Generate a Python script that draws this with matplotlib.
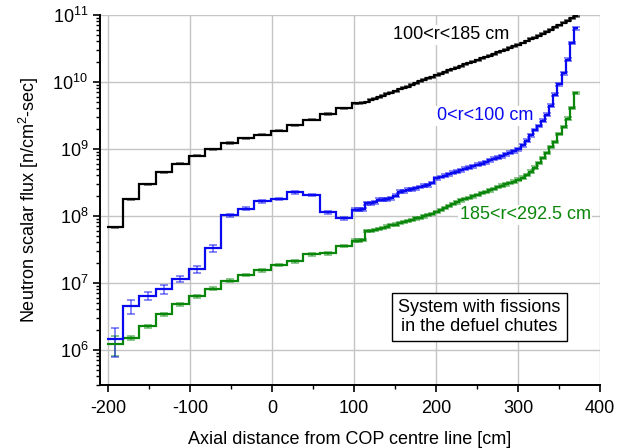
"""
    Neutron scalar flux along the axial direction, three radial zones.
"""
# Modules:
import numpy as np
import matplotlib
matplotlib.use("Agg")
import matplotlib.pyplot as plt
from matplotlib.ticker import MultipleLocator, LogLocator

# Data: bin edges [cm] (20 cm bins in the lower part, 5 cm bins above 98 cm)
coarse_edges = list(range(-202, 98, 20))
fine_edges = list(range(98, 374, 5))

# 100<r<185 cm
black_flux = [6.7e7, 1.77e8, 2.97e8, 4.49e8, 6.0e8, 7.9e8, 9.9e8, 1.22e9, 1.43e9, 1.62e9,
              1.86e9, 2.23e9, 2.7e9, 3.3e9, 4.0e9,
              4.8e9, 4.8e9, 4.9e9, 5.0e9, 5.4e9, 5.6e9, 5.9e9, 6.2e9, 6.6e9, 6.9e9,
              7.2e9, 7.8e9, 8.1e9, 8.5e9, 9.1e9, 9.5e9, 1.02e10, 1.07e10, 1.12e10, 1.17e10,
              1.26e10, 1.32e10, 1.38e10, 1.48e10, 1.55e10, 1.62e10, 1.70e10, 1.82e10, 1.91e10, 2.00e10,
              2.09e10, 2.24e10, 2.34e10, 2.45e10, 2.57e10, 2.75e10, 2.88e10, 3.02e10, 3.24e10, 3.39e10,
              3.55e10, 3.80e10, 4.07e10, 4.37e10, 4.57e10, 4.90e10, 5.25e10, 5.62e10, 6.03e10, 6.46e10,
              6.92e10, 7.59e10, 8.13e10, 8.91e10, 9.55e10]
black_err_coarse = [0.03, 0.02, 0.02, 0.02, 0.02, 0.02, 0.02, 0.02, 0.02, 0.02,
                    0.02, 0.02, 0.02, 0.02, 0.02]
black_err_fine = 0.015

# 0<r<100 cm
blue_flux = [1.44e6, 4.5e6, 6.4e6, 8.1e6, 1.15e7, 1.58e7, 3.3e7, 1.02e8, 1.27e8, 1.64e8,
             1.8e8, 2.23e8, 2.06e8, 1.13e8, 9.2e7,
             1.23e8, 1.23e8, 1.26e8, 1.55e8, 1.55e8, 1.58e8, 1.74e8, 1.74e8, 1.78e8, 1.82e8,
             2.0e8, 2.29e8, 2.34e8, 2.45e8, 2.51e8, 2.57e8, 2.69e8, 2.82e8, 2.88e8, 3.09e8,
             3.63e8, 3.8e8, 3.98e8, 4.17e8, 4.37e8, 4.57e8, 4.79e8, 5.01e8, 5.25e8, 5.5e8,
             5.75e8, 6.03e8, 6.31e8, 6.76e8, 7.08e8, 7.41e8, 7.76e8, 8.32e8, 8.71e8, 9.12e8,
             9.77e8, 1.12e9, 1.32e9, 1.58e9, 1.91e9, 2.19e9, 2.63e9, 3.24e9, 4.37e9, 6.46e9,
             9.12e9, 1.35e10, 2.14e10, 3.8e10, 6.3e10]
blue_err_coarse = [0.45, 0.25, 0.12, 0.15, 0.11, 0.12, 0.12, 0.05, 0.05, 0.05,
                   0.04, 0.04, 0.04, 0.05, 0.05]
blue_err_fine = 0.05

# 185<r<292.5 cm
green_flux = [1.2e6, 1.51e6, 2.23e6, 3.4e6, 4.8e6, 6.25e6, 8.2e6, 1.08e7, 1.32e7, 1.53e7,
              1.85e7, 2.08e7, 2.65e7, 2.75e7, 3.57e7,
              4.27e7, 4.27e7, 4.37e7, 5.89e7, 5.89e7, 6.17e7, 6.31e7, 6.61e7, 6.92e7, 7.24e7,
              7.41e7, 7.76e7, 8.13e7, 8.32e7, 8.71e7, 9.12e7, 9.33e7, 9.77e7, 1.02e8, 1.07e8,
              1.15e8, 1.23e8, 1.32e8, 1.41e8, 1.51e8, 1.58e8, 1.70e8, 1.78e8, 1.86e8, 1.95e8,
              2.04e8, 2.19e8, 2.29e8, 2.40e8, 2.51e8, 2.69e8, 2.82e8, 2.95e8, 3.09e8, 3.24e8,
              3.47e8, 3.72e8, 4.07e8, 4.57e8, 5.25e8, 6.17e8, 7.24e8, 8.71e8, 1.07e9, 1.26e9,
              1.66e9, 2.14e9, 2.82e9, 4.07e9, 6.76e9]
green_err_coarse = [0.33, 0.08, 0.06, 0.05, 0.05, 0.04, 0.04, 0.04, 0.04, 0.04,
                    0.04, 0.04, 0.04, 0.04, 0.04]
green_err_fine = 0.04

BLACK = "#000000"
BLUE = "#0a0af0"
GREEN = "#0a870a"
FS = 13

# Fonts:
plt.rcParams["font.family"] = ["Liberation Sans", "DejaVu Sans"]
plt.rcParams["mathtext.fontset"] = "custom"
plt.rcParams["mathtext.rm"] = "Liberation Sans"
plt.rcParams["mathtext.it"] = "Liberation Sans:italic"
plt.rcParams["mathtext.bf"] = "Liberation Sans:bold"
plt.rcParams["axes.unicode_minus"] = False


def draw_series(ax, edges, flux, err_coarse, err_fine, color):
    """ Histogram steps plus error bars at the bin centres. """
    edges = np.array(edges, dtype=float)
    flux = np.array(flux)
    rel = np.array(err_coarse + [err_fine] * (len(flux) - len(err_coarse)))
    centres = 0.5 * (edges[:-1] + edges[1:])
    ax.errorbar(centres, flux, yerr=flux * rel, fmt="none", ecolor=color, alpha=0.6,
                elinewidth=1.1, capsize=3, capthick=1.1, zorder=3)
    ax.stairs(flux, edges, color=color, lw=1.6, baseline=None, zorder=4)


def main():
    edges = coarse_edges + fine_edges

    fig = plt.figure(figsize=(6.29, 4.48), dpi=100)
    ax = fig.add_axes([0.159, 0.141, 0.795, 0.826])

    draw_series(ax, edges, green_flux, green_err_coarse, green_err_fine, GREEN)
    draw_series(ax, edges, blue_flux, blue_err_coarse, blue_err_fine, BLUE)
    draw_series(ax, edges, black_flux, black_err_coarse, black_err_fine, BLACK)

    # Axes:
    ax.set_yscale("log")
    ax.set_xlim(-210, 400)
    ax.set_ylim(3.0e5, 1e11)
    ax.xaxis.set_major_locator(MultipleLocator(100))
    ax.xaxis.set_minor_locator(MultipleLocator(50))
    ax.yaxis.set_major_locator(LogLocator(base=10, numticks=20))
    ax.yaxis.set_minor_locator(LogLocator(base=10, subs=np.arange(2, 10), numticks=20))
    ax.grid(True, which="major", color="#c4c4c4", lw=1.0, zorder=0)
    ax.set_axisbelow(True)
    for side in ("top", "right"):
        ax.spines[side].set_visible(False)
    for side in ("left", "bottom"):
        ax.spines[side].set_linewidth(1.4)
    ax.tick_params(which="major", direction="out", length=5, width=1.2, labelsize=FS)
    ax.tick_params(axis="x", which="major", pad=6)
    ax.tick_params(which="minor", direction="out", length=3, width=1.0)

    ax.set_xlabel("Axial distance from COP centre line [cm]", fontsize=FS, labelpad=10)
    ax.set_ylabel(r"Neutron scalar flux [n/cm$^{2}$-sec]", fontsize=FS, labelpad=8)

    # Series labels:
    box = dict(facecolor="white", edgecolor="none", pad=1.0)
    ax.text(147, 5.0e10, "100<r<185 cm", color=BLACK, fontsize=FS, ha="left", va="center",
            bbox=box, zorder=5)
    ax.text(201, 3.1e9, "0<r<100 cm", color=BLUE, fontsize=FS, ha="left", va="center",
            bbox=box, zorder=5)
    ax.text(229, 1.04e8, "185<r<292.5 cm", color=GREEN, fontsize=FS, ha="left", va="center",
            bbox=box, zorder=5)

    # Note box:
    ax.text(253, 3.1e6, "System with fissions\nin the defuel chutes", fontsize=FS,
            ha="center", va="center", linespacing=1.15, zorder=6,
            bbox=dict(boxstyle="square,pad=0.35", facecolor="white", edgecolor="black", lw=1.0))

    fig.savefig("out.png", dpi=100)


if __name__ == '__main__':
    main()
